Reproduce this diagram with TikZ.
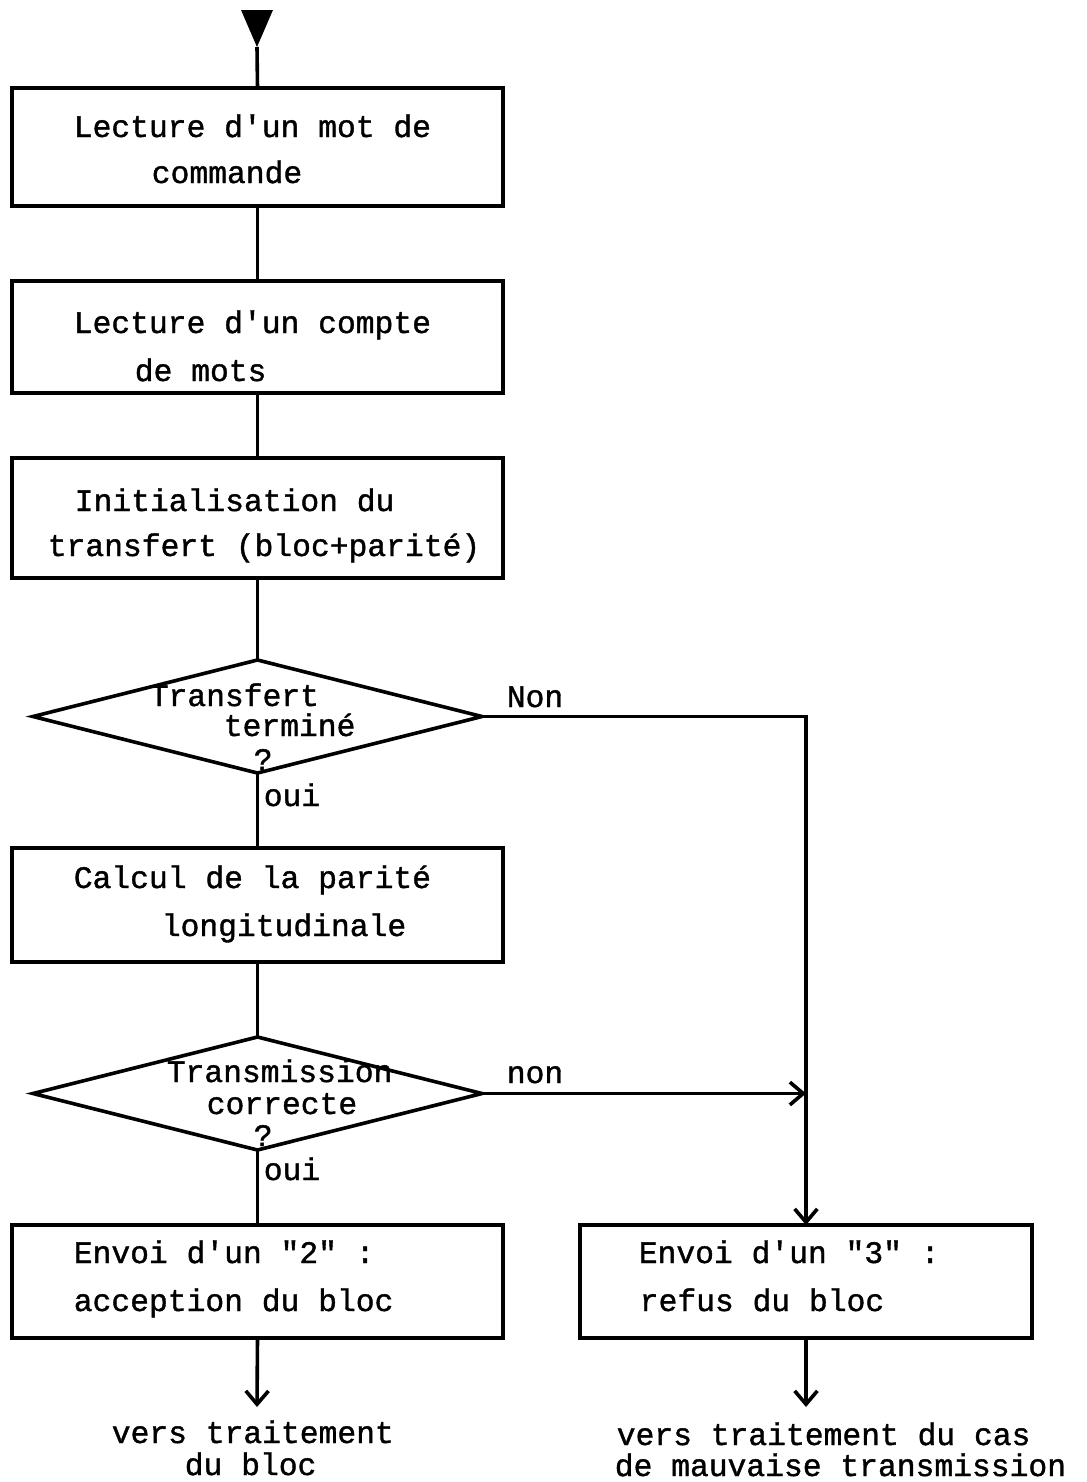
\documentclass[tikz,border=0pt]{standalone}
\usepackage{fontspec}
\usetikzlibrary{shapes.geometric,arrows.meta}
\newfontfamily\machinefont[FakeBold=1.2]{Liberation Mono}

\tikzset{every picture/.style={line width=2.7pt}}
\tikzset{
  box/.style={draw, rectangle, inner sep=0pt, outer sep=0pt, minimum width=368.25pt},
  cond/.style={draw, diamond, inner sep=0pt, outer sep=0pt, minimum width=336.75pt, minimum height=84.75pt},
  txt/.style={anchor=base west, inner sep=0pt, font=\machinefont\fontsize{23.5}{28}\selectfont},
  arr/.style={-{Straight Barb[length=10pt,width=17pt]}}
}

\begin{document}
\begin{tikzpicture}[x=0.75pt,y=0.75pt,yscale=-1,xscale=1]
    \useasboundingbox (0,0) rectangle (1086,1482);
    %Shape: Triangle
    \fill (241,10) -- (273,10) -- (257,47) -- cycle;
    \coordinate (entry) at (257,47);

    %Shape: Rectangle
    \node [box, minimum height=88.5pt] (b1) at (257.5,147) {};
    %Shape: Rectangle
    \node [box, minimum height=84pt] (b2) at (257.5,337) {};
    %Shape: Rectangle
    \node [box, minimum height=90pt] (b3) at (257.5,518) {};
    %Shape: Diamond
    \node [cond] (d1) at (257.5,716.5) {};
    %Shape: Rectangle
    \node [box, minimum height=85.5pt] (b4) at (257.5,905) {};
    %Shape: Diamond
    \node [cond] (d2) at (257.5,1093.5) {};
    %Shape: Rectangle
    \node [box, minimum height=84.75pt] (b5) at (257.5,1281.5) {};
    %Shape: Rectangle
    \node [box, minimum height=84.75pt, minimum width=339pt] (b6) at (806,1281.5) {};

    \coordinate (e1) at (257,1407);
    \coordinate (e2) at (806,1407);

    %Straight Lines
    \draw (entry) -- (b1.north);
    \draw (b1.south) -- (b2.north);
    \draw (b2.south) -- (b3.north);
    \draw (b3.south) -- (d1.north);
    \draw (d1.south) -- (b4.north);
    \draw (b4.south) -- (d2.north);
    \draw (d2.south) -- (b5.north);
    %Straight Lines
    \draw [arr] (d1.east) -| (b6.north);
    \draw [arr] (d2.east) -- (d2.east -| b6.north);
    %Straight Lines
    \draw [arr] (b5.south) -- (e1);
    \draw [arr] (b6.south) -- (e2);

    % Text Node
    \node [txt] (t1a) at (72,137) {Lecture d'un mot de};
    \node [txt] (t1b) at (150,183) {commande};
    % Text Node
    \node [txt] (t2a) at (72,333) {Lecture d'un compte};
    \node [txt] (t2b) at (133,381) {de mots};
    % Text Node
    \node [txt] (t3a) at (73,511) {Initialisation du};
    \node [txt] (t3b) at (46,556) {transfert (bloc+parité)};
    % Text Node
    \node [txt] (q1a) at (148,706) {Transfert};
    \node [txt] (q1b) at (222,736) {terminé};
    \node [txt] (q1c) at (252,770) {?};
    \node [txt] (no1) at (505,707) {Non};
    \node [txt] (yes1) at (262,806) {oui};
    % Text Node
    \node [txt] (t4a) at (72,888) {Calcul de la parité};
    \node [txt] (t4b) at (160,936) {longitudinale};
    % Text Node
    \node [txt] (q2a) at (165,1082) {Transmission};
    \node [txt] (q2b) at (205,1114) {correcte};
    \node [txt] (q2c) at (252,1146) {?};
    \node [txt] (no2) at (505,1083) {non};
    \node [txt] (yes2) at (262,1180) {oui};
    % Text Node
    \node [txt] (t5a) at (72,1263) {Envoi d'un "2" :};
    \node [txt] (t5b) at (72,1311) {acception du bloc};
    % Text Node
    \node [txt] (t6a) at (637,1263) {Envoi d'un "3" :};
    \node [txt] (t6b) at (638,1311) {refus du bloc};
    % Text Node
    \node [txt] (o1a) at (110,1443) {vers traitement};
    \node [txt] (o1b) at (183,1475) {du bloc};
    % Text Node
    \node [txt] (o2a) at (615,1445) {vers traitement du cas};
    \node [txt] (o2b) at (613,1476) {de mauvaise transmission};
\end{tikzpicture}
\end{document}
